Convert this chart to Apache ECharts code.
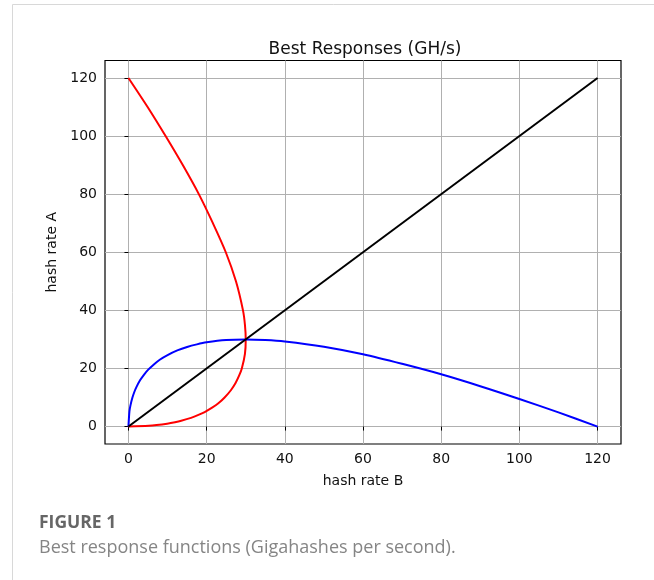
<!DOCTYPE html>
<html>
<head>
<meta charset="utf-8">
<script src="https://cdn.jsdelivr.net/npm/echarts@6/dist/echarts.min.js"></script>
<style>
	html, body { margin: 0; padding: 0; background: #fff; }
	#chart { width: 654px; height: 580px; }
</style>
</head>
<body>
<div id="chart"></div>
<script>
// best response of A to B (blue)
var blueB = [0, 0.25, 0.5, 1, 1.5, 2, 3, 4, 5, 6.5, 8, 10, 12.5, 15, 17.5, 20, 25, 30, 35, 40, 50, 60, 70, 80, 90, 100, 110, 120];
var blueA = [0, 5.2, 7.2, 9.9, 11.9, 13.5, 16.0, 17.9, 19.5, 21.4, 23.0, 24.6, 26.2, 27.4, 28.3, 29.0, 29.8, 30, 29.8, 29.3, 27.5, 24.9, 21.6, 18.0, 13.9, 9.5, 4.9, 0];
// best response of B to A (red)
var redB = [0, 4.9, 9.5, 13.9, 18.0, 21.6, 24.9, 27.5, 29.3, 29.8, 30, 29.8, 29.0, 28.3, 27.4, 26.2, 24.6, 23.0, 21.4, 19.5, 17.9, 16.0, 13.5, 11.9, 9.9, 7.2, 5.2, 0];
var redA = [120, 110, 100, 90, 80, 70, 60, 50, 40, 35, 30, 25, 20, 17.5, 15, 12.5, 10, 8, 6.5, 5, 4, 3, 2, 1.5, 1, 0.5, 0.25, 0];
// diagonal
var diagB = [0, 120];
var diagA = [0, 120];
var ticks = [0, 20, 40, 60, 80, 100, 120];

function pairs(xs, ys) {
	var out = [];
	for (var i = 0; i < xs.length; i++) {
		out.push([xs[i], ys[i]]);
	}
	return out;
}

function axis(name, gap) {
	return {
		type : 'value',
		min : -6,
		max : 126,
		name : name,
		nameLocation : 'middle',
		nameGap : gap,
		nameTextStyle : { fontFamily : 'DejaVu Sans', fontSize : 14, color : '#111' },
		axisLine : { show : false },
		axisTick : { show : true, customValues : ticks, length : 4, lineStyle : { color : '#000' } },
		axisLabel : { customValues : ticks, fontFamily : 'DejaVu Sans', fontSize : 14, color : '#111', margin : 8 },
		splitLine : { show : true, lineStyle : { color : '#b0b0b0', width : 1 } }
	};
}

var myChart = echarts.init(document.getElementById('chart'));
myChart.setOption({
	animation : false,
	backgroundColor : '#fff',
	title : {
		text : 'Best Responses (GH/s)',
		left : 360,
		top : 36,
		textAlign : 'center',
		textStyle : { fontFamily : 'DejaVu Sans', fontSize : 17, fontWeight : 'normal', color : '#111' }
	},
	grid : {
		left : 105,
		top : 60.5,
		width : 516,
		height : 383.5,
		show : true,
		borderColor : '#000',
		borderWidth : 1.2,
		backgroundColor : 'transparent'
	},
	xAxis : axis('hash rate B', 30),
	yAxis : axis('hash rate A', 40),
	graphic : [ {
		type : 'rect',
		shape : { x : 12.5, y : 4.5, width : 700, height : 600 },
		style : { fill : 'none', stroke : '#d8d8d8', lineWidth : 1 },
		silent : true
	}, {
		type : 'text',
		left : 39,
		top : 514,
		style : { text : 'FIGURE 1', font : 'bold 17.5px "Open Sans"', fill : '#666' }
	}, {
		type : 'text',
		left : 39,
		top : 539,
		style : { text : 'Best response functions (Gigahashes per second).', font : '18px "Open Sans"', fill : '#858585' }
	} ],
	series : [ {
		type : 'line',
		data : pairs(redB, redA),
		showSymbol : false,
		smooth : 0.3,
		lineStyle : { color : '#ff0000', width : 2 }
	}, {
		type : 'line',
		data : pairs(blueB, blueA),
		showSymbol : false,
		smooth : 0.3,
		lineStyle : { color : '#0000ff', width : 2 }
	}, {
		type : 'line',
		data : pairs(diagB, diagA),
		showSymbol : false,
		lineStyle : { color : '#000000', width : 2 }
	} ]
});
</script>
</body>
</html>
